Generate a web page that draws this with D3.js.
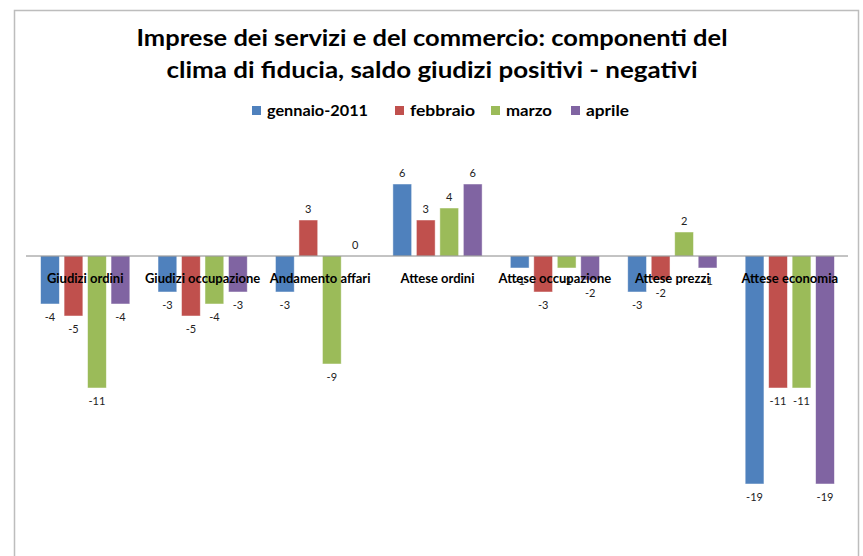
<!DOCTYPE html>
<html>
<head>
<meta charset="utf-8">
<script src="https://cdn.jsdelivr.net/npm/d3@7"></script>
<style>
  body { margin: 0; background: #fff; }
  text { font-family: Lato, "Open Sans", sans-serif; }
</style>
</head>
<body>
<div id="chart"></div>
<script>
// data
const categories = ["Giudizi ordini", "Giudizi occupazione", "Andamento affari", "Attese ordini",
                    "Attese occupazione", "Attese prezzi", "Attese economia"];
const seriesNames = ["gennaio-2011", "febbraio", "marzo", "aprile"];
const gennaio = [-4, -3, -3, 6, -1, -3, -19];
const febbraio = [-5, -5, 3, 3, -3, -2, -11];
const marzo = [-11, -4, -9, 4, -1, 2, -11];
const aprile = [-4, -3, 0, 6, -2, -1, -19];
const colors = ["#4F81BD", "#C0504D", "#9BBB59", "#8064A2"];
const titleLines = ["Imprese dei servizi e del commercio: componenti del",
                    "clima di fiducia, saldo giudizi positivi  - negativi"];

const allSeries = [gennaio, febbraio, marzo, aprile];
const data = categories.map((c, i) => ({
  cat: c,
  vals: seriesNames.map((s, j) => ({ key: s, value: allSeries[j][i], color: colors[j] }))
}));

const width = 863, height = 556;

const svg = d3.select("#chart").append("svg")
  .attr("width", width)
  .attr("height", height);

// chart frame
svg.append("rect")
  .attr("x", 14.5).attr("y", 10.5)
  .attr("width", 844).attr("height", 600)
  .attr("fill", "#fff")
  .attr("stroke", "#bdbdbd")
  .attr("stroke-width", 1.5);

// title
svg.append("g").selectAll("text")
  .data(titleLines)
  .enter().append("text")
    .attr("x", 432)
    .attr("y", (d, i) => 46 + i * 32)
    .attr("text-anchor", "middle")
    .attr("font-size", 22)
    .attr("font-weight", "bold")
    .attr("fill", "#000")
    .attr("textLength", (d, i) => i == 0 ? 591 : 531)
    .attr("lengthAdjust", "spacingAndGlyphs")
    .text(d => d);

// legend
const legX = [252, 395, 491, 571];
const legW = [101, 65, 46, 43];
const legend = svg.append("g").selectAll("g")
  .data(seriesNames)
  .enter().append("g")
    .attr("transform", (d, i) => `translate(${legX[i]},106)`);
legend.append("rect")
  .attr("width", 9).attr("height", 9)
  .attr("fill", (d, i) => colors[i]);
legend.append("text")
  .attr("x", 15).attr("y", 9.5)
  .attr("font-size", 15)
  .attr("font-weight", "bold")
  .attr("fill", "#000")
  .attr("textLength", (d, i) => legW[i])
  .attr("lengthAdjust", "spacingAndGlyphs")
  .text(d => d);

// scales
const x = d3.scaleBand()
  .domain(categories)
  .range([26.5, 848.5]);

const x1 = d3.scaleBand()
  .domain(seriesNames)
  .range([0, x.bandwidth()])
  .paddingInner(0.2)
  .paddingOuter(0.6);

const y = d3.scaleLinear()
  .domain([-20, 8])
  .range([496, 160]);

// bars
const groups = svg.append("g").selectAll("g")
  .data(data)
  .enter().append("g")
    .attr("transform", d => `translate(${x(d.cat)},0)`);

groups.selectAll("rect")
  .data(d => d.vals)
  .enter().append("rect")
    .attr("x", d => x1(d.key))
    .attr("y", d => y(Math.max(0, d.value)))
    .attr("width", x1.bandwidth())
    .attr("height", d => Math.abs(y(d.value) - y(0)))
    .attr("fill", d => d.color)
    .attr("stroke", "#fff")
    .attr("stroke-opacity", 0.6)
    .attr("stroke-width", 0.8);

// value labels
groups.selectAll("text.val")
  .data(d => d.vals)
  .enter().append("text")
    .attr("class", "val")
    .attr("x", d => x1(d.key) + x1.bandwidth() / 2)
    .attr("y", d => d.value >= 0 ? y(d.value) - 7 : y(d.value) + 17)
    .attr("text-anchor", "middle")
    .attr("font-size", 11)
    .attr("fill", "#222")
    .text(d => d.value);

// zero axis line
svg.append("line")
  .attr("x1", 26).attr("x2", 848)
  .attr("y1", y(0)).attr("y2", y(0))
  .attr("stroke", "#888")
  .attr("stroke-width", 1);

// category labels (sit right under the axis, over the bars)
svg.append("g").selectAll("text")
  .data(categories)
  .enter().append("text")
    .attr("x", d => x(d) + x.bandwidth() / 2)
    .attr("y", y(0) + 27)
    .attr("text-anchor", "middle")
    .attr("font-size", 13)
    .attr("font-weight", "bold")
    .attr("fill", "#000")
    .text(d => d);
</script>
</body>
</html>
